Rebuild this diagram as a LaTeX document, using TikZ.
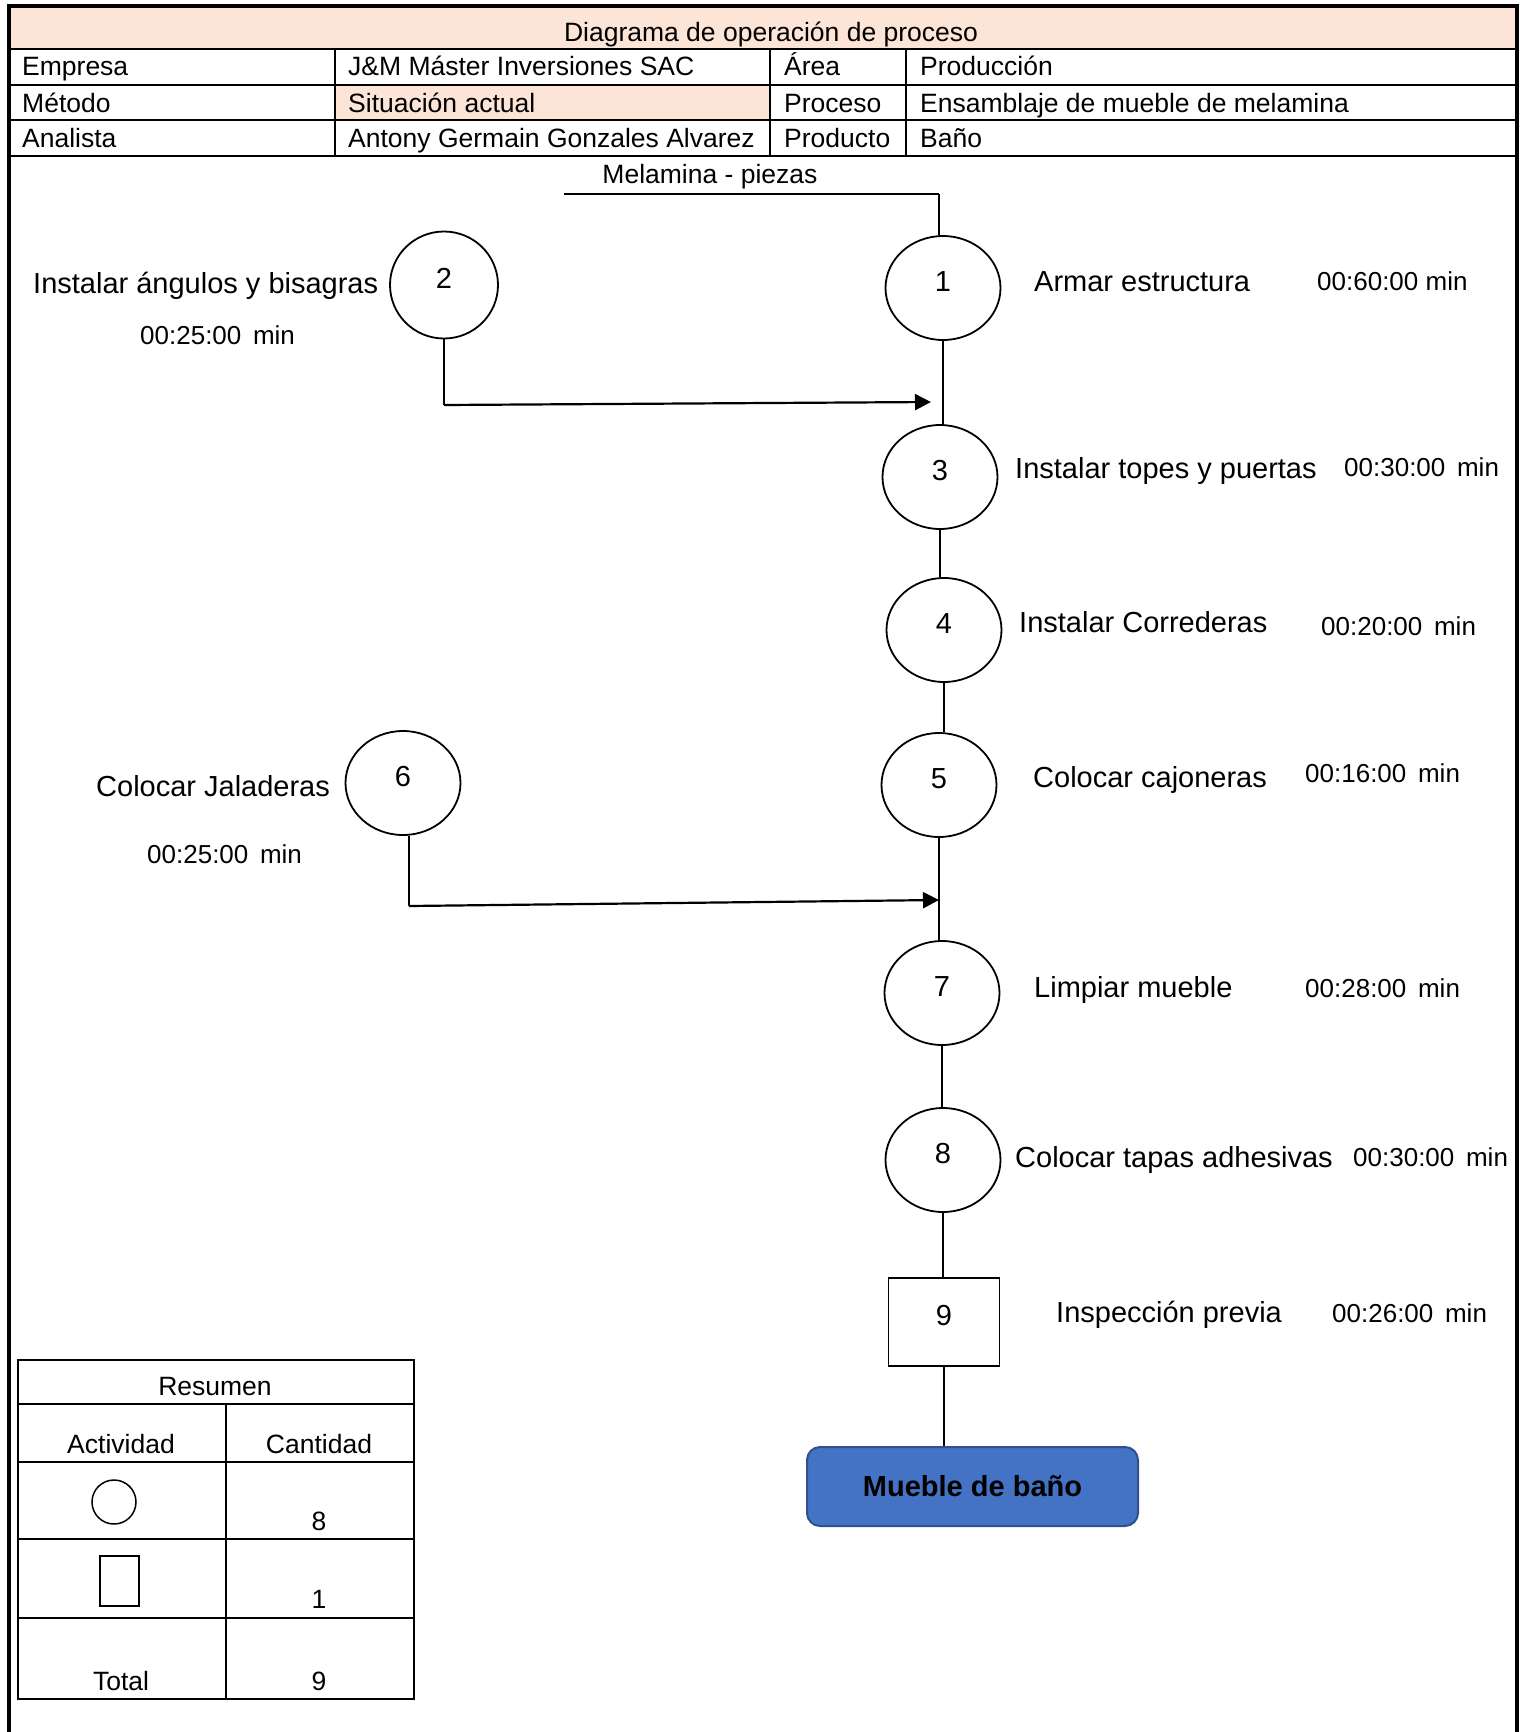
\documentclass[tikz,border=0pt]{standalone}
\usepackage{fontspec}
\setmainfont{Liberation Sans}
\usetikzlibrary{arrows.meta,shapes.geometric}
\definecolor{peach}{HTML}{FCE4D6}
\definecolor{boxblue}{HTML}{4472C4}
\definecolor{boxedge}{HTML}{2F528F}
\begin{document}
\begin{tikzpicture}[x=1pt,y=-1pt,
  txt/.style={inner sep=0pt, text height=1.65em, text depth=0em},
  hdr/.style={txt, anchor=west, font=\fontsize{26.5}{30}\selectfont},
  hdrc/.style={txt, font=\fontsize{26.5}{30}\selectfont},
  lbl/.style={txt, anchor=west, font=\fontsize{29}{33}\selectfont},
  tm/.style={txt, anchor=west, font=\fontsize{26}{30}\selectfont},
  op/.style={ellipse, draw, line width=1.8pt, minimum width=115pt, minimum height=104pt, inner sep=0pt, font=\fontsize{29}{33}\selectfont},
  insp/.style={rectangle, draw, line width=1.8pt, minimum width=111pt, minimum height=88pt, inner sep=0pt, font=\fontsize{29}{33}\selectfont},
  conn/.style={line width=1.3pt},
  flow/.style={line width=2.2pt, -{Triangle[length=16pt,width=16pt]}},
  grid/.style={line width=2pt},
]
\useasboundingbox (0,0) rectangle (1522,1732);
% header fills
\fill[peach] (9,6) rectangle (1517,49);
\fill[peach] (335,85) rectangle (770,120);
% header grid
\foreach \yy in {49,85,120,156} \draw[grid] (9,\yy) -- (1517,\yy);
\foreach \xx in {335,770,906} \draw[grid] (\xx,49) -- (\xx,156);
% outer frame
\draw[line width=3.5pt] (9,1732) -- (9,6) -- (1517,6) -- (1517,1732);
% header texts
\node[hdrc] (title) at (771,33) {Diagrama de operación de proceso};
\node[hdr] (h1) at (22,67) {Empresa};
\node[hdr] (h2) at (348,67) {J\&M Máster Inversiones SAC};
\node[hdr] (h3) at (784,67) {Área};
\node[hdr] (h4) at (920,67) {Producción};
\node[hdr] (h5) at (22,104) {Método};
\node[hdr] (h6) at (348,104) {Situación actual};
\node[hdr] (h7) at (784,104) {Proceso};
\node[hdr] (h8) at (920,104) {Ensamblaje de mueble de melamina};
\node[hdr] (h9) at (22,139) {Analista};
\node[hdr] (h10) at (348,139) {Antony Germain Gonzales Alvarez};
\node[hdr] (h11) at (784,139) {Producto};
\node[hdr] (h12) at (920,139) {Baño};

% input material
\node[hdrc] (mel) at (710,175) {Melamina - piezas};
\coordinate (m1) at (564,194);
\coordinate (m2) at (939,194);

% operations
\node[op] (c1) at (943,288) {\raisebox{13pt}{1}};
\node[op, minimum width=108pt, minimum height=107pt] (c2) at (444,285) {\raisebox{13pt}{2}};
\node[op] (c3) at (940,477) {\raisebox{13pt}{3}};
\node[op] (c4) at (944,630) {\raisebox{13pt}{4}};
\node[op] (c5) at (939,785) {\raisebox{13pt}{5}};
\node[op] (c6) at (403,783) {\raisebox{13pt}{6}};
\node[op] (c7) at (942,993) {\raisebox{13pt}{7}};
\node[op] (c8) at (943,1160) {\raisebox{13pt}{8}};
\node[insp] (b9) at (944,1322) {\raisebox{13pt}{9}};
\node[rectangle, rounded corners=13pt, fill=boxblue, draw=boxedge, line width=2pt,
      minimum width=331pt, minimum height=79pt, inner sep=0pt,
      font=\fontsize{29}{33}\selectfont\bfseries] (fin) at (972.5,1486.5) {Mueble de baño};

% labels
\node[lbl] (l2) at (33,285) {Instalar ángulos y bisagras};
\node[tm] (t2) at (140,336) {00:25:00\hspace{0.45em}min};
\node[lbl] (l1) at (1034,283) {Armar estructura};
\node[tm] (t1) at (1317,282) {00:60:00 min};
\node[lbl] (l3) at (1015,470) {Instalar topes y puertas};
\node[tm] (t3) at (1344,468) {00:30:00\hspace{0.45em}min};
\node[lbl] (l4) at (1019,624) {Instalar Correderas};
\node[tm] (t4) at (1321,627) {00:20:00\hspace{0.45em}min};
\node[lbl] (l5) at (1033,779) {Colocar cajoneras};
\node[tm] (t5) at (1305,774) {00:16:00\hspace{0.45em}min};
\node[lbl] (l6) at (96,788) {Colocar Jaladeras};
\node[tm] (t6) at (147,855) {00:25:00\hspace{0.45em}min};
\node[lbl] (l7) at (1034,989) {Limpiar mueble};
\node[tm] (t7) at (1305,989) {00:28:00\hspace{0.45em}min};
\node[lbl] (l8) at (1015,1159) {Colocar tapas adhesivas};
\node[tm] (t8) at (1353,1158) {00:30:00\hspace{0.45em}min};
\node[lbl] (l9) at (1056,1314) {Inspección previa};
\node[tm] (t9) at (1332,1314) {00:26:00\hspace{0.45em}min};

% connectors
\draw[line width=2pt] (m1) -- (m2);
\draw[conn] (m2) -- (m2 |- c1.north);
\draw[conn] (c1.south) -- (c1.south |- c3.north);
\draw[conn] (c3.south) -- (c3.south |- c4.north);
\draw[conn] (c4.south) -- (c4.south |- c5.north);
\draw[conn] (c5.south) -- (c5.south |- c7.north);
\draw[conn] (c7.south) -- (c7.south |- c8.north);
\draw[conn] (c8.south) -- (c8.south |- b9.north);
\draw[conn] (b9.south) -- (fin.north -| b9.south);

\coordinate (a1) at (444,405);
\coordinate (a1e) at (931,402);
\draw[conn] (c2.south) -- (a1);
\draw[flow] (a1) -- (a1e);

\coordinate (a2) at (409,906);
\coordinate (a2e) at (939,900);
\draw[conn] (c6.south -| a2) -- (a2);
\draw[flow] (a2) -- (a2e);

% summary table
\draw[grid] (18,1360) rectangle (414,1699);
\foreach \yy in {1404,1462,1539,1618} \draw[grid] (18,\yy) -- (414,\yy);
\draw[grid] (226,1404) -- (226,1699);
\node[hdrc] (rs) at (215,1387) {Resumen};
\node[hdrc] (act) at (121,1445) {Actividad};
\node[hdrc] (cant) at (319,1445) {Cantidad};
\node[circle, draw, line width=1.5pt, minimum size=44pt, inner sep=0pt] (symc) at (114,1502) {};
\node[hdrc] (n8) at (319,1522) {8};
\node[rectangle, draw, line width=1.5pt, minimum width=39pt, minimum height=50pt, inner sep=0pt] (symr) at (119.5,1581) {};
\node[hdrc] (n1) at (319,1600) {1};
\node[hdrc] (tot) at (121,1682) {Total};
\node[hdrc] (n9) at (319,1682) {9};
\end{tikzpicture}
\end{document}
